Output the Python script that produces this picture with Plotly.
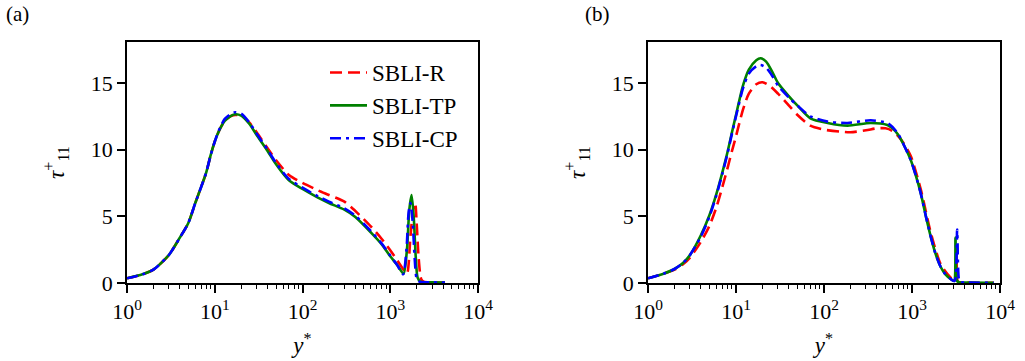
import plotly.graph_objects as go

# ---------------- data: panel (a) ----------------
a_r_x = [1, 1.5, 2, 3, 4, 5, 6, 7, 8, 9, 10, 11, 12, 13, 15, 17, 20, 25, 30, 40, 50, 70, 100, 150, 200, 300, 400, 600, 800, 1000, 1200, 1400, 1550, 1700, 1850, 1920, 2000, 2100, 2250, 2400, 3000, 4200]
a_r_y = [0.35, 0.65, 1.0, 2.1, 3.4, 4.5, 6.0, 7.2, 8.3, 9.6, 10.6, 11.3, 11.8, 12.15, 12.5, 12.6, 12.55, 12.0, 11.3, 10.1, 9.2, 8.1, 7.5, 6.95, 6.6, 6.1, 5.4, 4.25, 3.3, 2.45, 1.7, 1.05, 0.7, 3.5, 5.8, 6.0, 4.5, 2.0, 0.3, 0.1, 0.05, 0.03]

a_tp_x = [1, 1.5, 2, 3, 4, 5, 6, 7, 8, 9, 10, 11, 12, 13, 15, 17, 20, 25, 30, 40, 50, 70, 100, 150, 200, 300, 400, 600, 800, 1000, 1200, 1420, 1550, 1650, 1750, 1850, 1950, 2050, 2200, 3000, 4200]
a_tp_y = [0.35, 0.65, 1.0, 2.1, 3.4, 4.5, 6.0, 7.2, 8.3, 9.6, 10.6, 11.3, 11.8, 12.15, 12.5, 12.65, 12.55, 11.9, 11.1, 9.9, 8.9, 7.7, 7.05, 6.4, 6.0, 5.5, 4.95, 3.8, 2.9, 2.0, 1.35, 0.7, 2.5, 5.5, 6.6, 5.0, 2.0, 0.4, 0.1, 0.05, 0.03]

a_cp_x = [1, 1.5, 2, 3, 4, 5, 6, 7, 8, 9, 10, 11, 12, 13, 15, 17, 20, 25, 30, 40, 50, 70, 100, 150, 200, 300, 400, 600, 800, 1000, 1200, 1400, 1530, 1620, 1700, 1800, 1900, 2000, 2150, 3000, 4200]
a_cp_y = [0.35, 0.65, 1.0, 2.1, 3.4, 4.5, 6.0, 7.2, 8.3, 9.6, 10.6, 11.35, 11.9, 12.3, 12.65, 12.8, 12.7, 12.0, 11.2, 10.0, 9.0, 7.8, 7.15, 6.5, 6.1, 5.6, 5.05, 3.9, 2.95, 2.05, 1.35, 0.65, 2.5, 5.3, 6.0, 4.6, 1.8, 0.35, 0.1, 0.05, 0.03]

# ---------------- data: panel (b) ----------------
b_r_x = [1, 1.5, 2, 2.5, 3, 4, 5, 6, 7, 8, 9, 10, 12, 14, 17, 20, 24, 30, 40, 50, 70, 100, 150, 200, 300, 400, 500, 600, 700, 800, 970, 1260, 1630, 2120, 2750, 3100, 3200, 3300, 3450, 4000, 8500]
b_r_y = [0.35, 0.7, 1.0, 1.4, 1.9, 3.1, 4.3, 5.7, 7.2, 8.6, 9.9, 11.0, 13.0, 14.2, 14.9, 15.05, 14.8, 14.2, 13.3, 12.6, 11.8, 11.5, 11.35, 11.3, 11.45, 11.6, 11.6, 11.4, 11.0, 10.5, 9.5, 7.0, 3.8, 1.4, 0.4, 0.15, 2.5, 0.15, 0.05, 0.03, 0.02]

b_tp_x = [1, 1.5, 2, 2.5, 3, 4, 5, 6, 7, 8, 9, 10, 12, 14, 17, 19, 22, 26, 30, 40, 50, 70, 110, 185, 340, 525, 600, 700, 800, 970, 1100, 1260, 1450, 1630, 1850, 2120, 2400, 2750, 3000, 3120, 3250, 3450, 4000, 8500]
b_tp_y = [0.35, 0.7, 1.05, 1.5, 2.1, 3.6, 5.1, 6.7, 8.3, 9.8, 11.3, 12.6, 14.8, 16.0, 16.7, 16.85, 16.6, 15.8, 15.0, 14.0, 13.3, 12.35, 12.0, 11.8, 12.0, 11.85, 11.6, 11.1, 10.4, 9.2, 8.1, 6.7, 4.9, 3.5, 2.2, 1.2, 0.65, 0.3, 0.15, 3.4, 0.15, 0.05, 0.03, 0.02]

b_cp_x = [1, 1.5, 2, 2.5, 3, 4, 5, 6, 7, 8, 9, 10, 12, 14, 17, 19, 22, 26, 30, 40, 50, 70, 110, 185, 340, 525, 600, 700, 800, 970, 1100, 1260, 1450, 1630, 1850, 2120, 2400, 2750, 3050, 3260, 3440, 3600, 4000, 8500]
b_cp_y = [0.35, 0.7, 1.05, 1.5, 2.1, 3.5, 5.0, 6.6, 8.2, 9.7, 11.2, 12.5, 14.6, 15.7, 16.25, 16.35, 16.15, 15.5, 14.8, 13.9, 13.3, 12.5, 12.1, 12.0, 12.2, 12.0, 11.7, 11.15, 10.4, 9.2, 8.1, 6.7, 4.9, 3.5, 2.2, 1.2, 0.65, 0.3, 0.15, 4.0, 0.15, 0.05, 0.03, 0.02]

series_names = ["SBLI-R", "SBLI-TP", "SBLI-CP"]
series_colors = ["#ff0000", "#008000", "#0000ff"]
series_dash = ["12px,6px", "solid", "11px,5px,3px,5px"]

xtick_vals = [1, 10, 100, 1000, 10000]
xtick_text = ["10<sup>0</sup>", "10<sup>1</sup>", "10<sup>2</sup>", "10<sup>3</sup>", "10<sup>4</sup>"]
xminor_vals = [m * 10 ** d for d in range(4) for m in range(2, 10)]
ytick_vals = [0, 5, 10, 15]

FONT = "Liberation Serif"
W, H = 1025, 361

fig = go.Figure()

panels = [
    ("x", "y", [(a_r_x, a_r_y), (a_tp_x, a_tp_y), (a_cp_x, a_cp_y)], True),
    ("x2", "y2", [(b_r_x, b_r_y), (b_tp_x, b_tp_y), (b_cp_x, b_cp_y)], False),
]
for xa, ya, data, show in panels:
    for i, (xs, ys) in enumerate(data):
        fig.add_trace(go.Scatter(
            x=xs, y=ys, xaxis=xa, yaxis=ya, mode="lines",
            name=series_names[i], legendgroup=series_names[i], showlegend=show,
            line=dict(color=series_colors[i], width=2.6, dash=series_dash[i],
                      shape="spline", smoothing=0.7),
        ))


def xd(l, r):
    return [l / W, r / W]


ydom = [(H - 283) / H, (H - 42) / H]

common_x = dict(
    type="log", range=[0, 4], tickmode="array", tickvals=xtick_vals, ticktext=xtick_text,
    ticks="outside", ticklen=8, tickwidth=1.5, tickcolor="black",
    minor=dict(tickmode="array", tickvals=xminor_vals, ticks="outside", ticklen=4.5,
               tickwidth=1.2, tickcolor="black", showgrid=False),
    showline=True, linecolor="black", linewidth=1.6, mirror=True,
    showgrid=False, zeroline=False, automargin=False,
    tickfont=dict(family=FONT, size=22, color="black"),
    title=dict(text="<i>y</i><sup>*</sup>", font=dict(family=FONT, size=23, color="black"), standoff=14),
)
common_y = dict(
    range=[0, 18.07], tickmode="array", tickvals=ytick_vals,
    ticks="outside", ticklen=8, tickwidth=1.5, tickcolor="black",
    showline=True, linecolor="black", linewidth=1.6, mirror=True,
    showgrid=False, zeroline=False, automargin=False,
    tickfont=dict(family=FONT, size=22, color="black"),
    title=dict(text="<i>τ</i><sup>+</sup><sub>11</sub>", font=dict(family=FONT, size=23, color="black"), standoff=20),
)

fig.update_layout(
    width=W, height=H,
    margin=dict(l=0, r=0, t=0, b=0, autoexpand=False),
    paper_bgcolor="white", plot_bgcolor="white",
    xaxis=dict(domain=xd(127, 478), anchor="y", **common_x),
    yaxis=dict(domain=ydom, anchor="x", **common_y),
    xaxis2=dict(domain=xd(648, 1000), anchor="y2", **common_x),
    yaxis2=dict(domain=ydom, anchor="x2", **common_y),
    legend=dict(x=325 / W, y=(H - 51) / H, xanchor="left", yanchor="top",
                bgcolor="rgba(0,0,0,0)", borderwidth=0, tracegroupgap=0, itemwidth=37,
                font=dict(family=FONT, size=23, color="black")),
    font=dict(family=FONT, color="black"),
    annotations=[
        dict(text="(a)", x=4 / W, y=(H - 14) / H, xref="paper", yref="paper",
             xanchor="left", yanchor="middle", showarrow=False,
             font=dict(family=FONT, size=21, color="black")),
        dict(text="(b)", x=583 / W, y=(H - 14) / H, xref="paper", yref="paper",
             xanchor="left", yanchor="middle", showarrow=False,
             font=dict(family=FONT, size=21, color="black")),
    ],
)

fig.write_html("out.html")
